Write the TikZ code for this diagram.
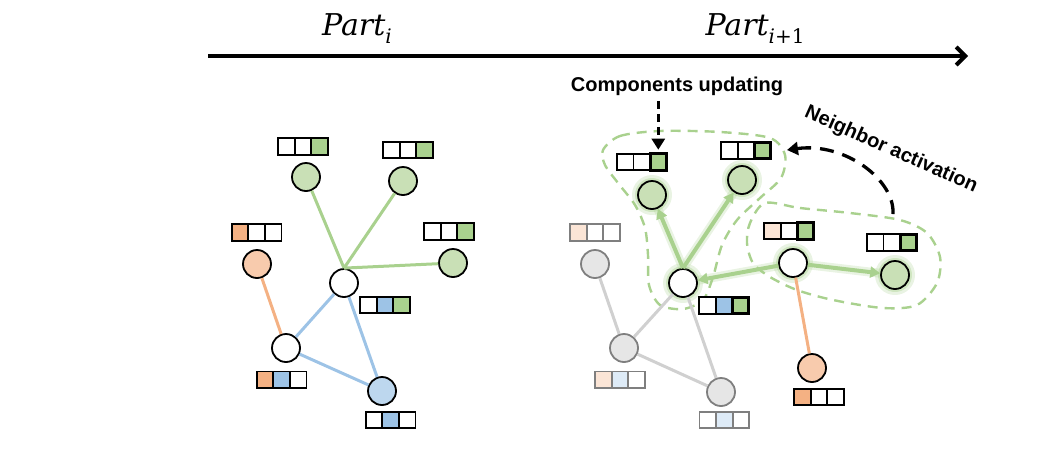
\documentclass[tikz,border=0pt]{standalone}
\usepackage{amsmath}
\usepackage{fontspec}
\setsansfont{Liberation Sans}
\newfontfamily\partfont{DejaVu Serif}
\usepackage{tikz}
\usetikzlibrary{positioning,arrows.meta,backgrounds}
\definecolor{gfill}{HTML}{C9E0B6}
\definecolor{gcellc}{HTML}{A9D18E}
\definecolor{gedge}{HTML}{A9D18E}
\definecolor{bfill}{HTML}{BDD7EE}
\definecolor{bcell}{HTML}{9DC3E6}
\definecolor{ofill}{HTML}{F8CBAD}
\definecolor{ocell}{HTML}{F4B183}
\definecolor{greyf}{HTML}{E6E6E6}
\definecolor{greyb}{HTML}{7F7F7F}
\definecolor{greye}{HTML}{D0D0D0}
\definecolor{ofade}{HTML}{FBE5D6}
\definecolor{bfade}{HTML}{DEEBF7}
\tikzset{node distance=0pt}
% three cells in a row: #2a #2b #2c
\newcommand{\featrow}[6][cell]{%
  \node[#1,fill=#5] (#2b) at (#3) {};
  \node[#1,fill=#4,left=of #2b] (#2a) {};
  \node[#1,fill=#6,right=of #2b] (#2c) {};}
\newcommand{\hotcell}[1]{\draw[line width=3pt] (#1.south west) rectangle (#1.north east);}
\newcommand{\partlab}[1]{{\partfont\itshape\fontsize{30}{30}\selectfont Part\raisebox{-8pt}{\fontsize{20}{20}\selectfont #1}}}

\begin{document}
\begin{tikzpicture}[x=1pt,y=-1pt,
  vtx/.style={circle,draw,line width=1.8pt,minimum size=28pt,inner sep=0pt,fill=white},
  gvtx/.style={vtx,draw=greyb,fill=greyf},
  cell/.style={draw,line width=1.8pt,minimum size=16.6pt,inner sep=0pt,outer sep=0pt},
  gcell/.style={cell,draw=greyb},
  lnk/.style={line width=3pt},
  garr/.style={line width=4pt,gedge,-{Triangle[length=10pt,width=11pt]},
    preaction={draw,line width=9pt,gedge,opacity=.25,-}},
  darr/.style={line width=3.3pt,-{Triangle[length=11pt,width=13pt]}},
  lab/.style={font=\sffamily\bfseries\fontsize{20}{20}\selectfont},
  blob/.style={gedge,line width=2.4pt,dash pattern=on 10pt off 7pt}
]
\useasboundingbox (0,0) rectangle (1038,448);

% time line
\coordinate (t0) at (208,56);
\coordinate (t1) at (968,56);
\draw[line width=4pt,-{Straight Barb[length=9pt,width=18pt]}] (t0) -- (t1);
\node (pi) at (357,29) {\partlab{i}};
\node (pj) at (755,29) {\partlab{i\upshape+1}};

% left graph
\node[vtx,fill=gfill] (ltl) at (306,177) {};
\node[vtx,fill=gfill] (ltr) at (403,181) {};
\node[vtx,fill=gfill] (lr) at (453,263) {};
\node[vtx,fill=ofill] (lo) at (257,264) {};
\node[vtx] (lc) at (344,283) {};
\node[vtx] (ll) at (286,348) {};
\node[vtx,fill=bfill] (lb) at (382,391) {};
\draw[lnk,gedge] (lc.north) -- (ltl) (lc.north) -- (ltr) (lc.north) -- (lr);
\draw[lnk,bcell] (lc) -- (ll) (lc) -- (lb) (ll) -- (lb);
\draw[lnk,ocell] (lo) -- (ll);

\featrow{vltl}{303,146.5}{white}{white}{gcellc}
\featrow{vltr}{408,150}{white}{white}{gcellc}
\featrow{vlr}{449,231.5}{white}{white}{gcellc}
\featrow{vlo}{256.5,232.5}{ocell}{white}{white}
\featrow{vlc}{385,305}{white}{bcell}{gcellc}
\featrow{vll}{281.5,379.7}{ocell}{bcell}{white}
\featrow{vlb}{390.5,420}{white}{bcell}{white}

% right graph
\node[gvtx] (rgo) at (595,264) {};
\node[gvtx] (rgl) at (624,348) {};
\node[gvtx] (rgb) at (721,392) {};
\node[vtx,fill=gfill] (rtl) at (652,195) {};
\node[vtx,fill=gfill] (rtr) at (742,180) {};
\node[vtx] (rc) at (683,283) {};
\node[vtx] (rm) at (793,263) {};
\node[vtx,fill=gfill] (rr) at (895,275) {};
\node[vtx,fill=ofill] (ro) at (812,368) {};
\draw[lnk,greye] (rgo) -- (rgl) (rgl) -- (rc) (rgl) -- (rgb) (rc) -- (rgb);
\draw[lnk,ocell] (rm) -- (ro);
\draw[garr] (rc.north) -- (rtl);
\draw[garr] (rc.north) -- (rtr);
\draw[garr] (rm) -- (rc);
\draw[garr] (rm) -- (rr);

\featrow{vrtl}{641.7,162}{white}{white}{gcellc} \hotcell{vrtlc}
\featrow{vrtr}{746,150.5}{white}{white}{gcellc} \hotcell{vrtrc}
\featrow{vrc}{724,305.5}{white}{bcell}{gcellc} \hotcell{vrcc}
\featrow{vrm}{789,231}{ofade}{white}{gcellc} \hotcell{vrmc}
\featrow{vrr}{891.7,242.5}{white}{white}{gcellc} \hotcell{vrrc}
\featrow[gcell]{vrgo}{595,232.5}{ofade}{white}{white}
\featrow[gcell]{vrgl}{620,379.7}{ofade}{bfade}{white}
\featrow[gcell]{vrgb}{724.3,420}{white}{bfade}{white}
\featrow{vro}{819,397}{ocell}{white}{white}

\begin{scope}[on background layer]
  \foreach \n in {rtl,rtr,rc,rm,rr} {
    \fill[gedge,opacity=.25] (\n) circle (20pt);
    \fill[gedge,opacity=.4] (\n) circle (17pt);
  }
  \draw[blob] plot[smooth cycle] coordinates {(603,150) (620,136) (660,131) (720,132)
    (770,138) (785,155) (781,178) (760,198) (737,220) (722,245) (713,277) (703,300)
    (683,309) (660,305) (649,285) (648,255) (645,228) (635,205) (618,183) (605,165)};
  \draw[blob] plot[smooth cycle] coordinates {(765,203) (800,208) (850,213) (900,220)
    (927,233) (940,257) (937,283) (917,305) (883,308) (833,300) (797,290) (770,277)
    (753,263) (747,243) (750,223)};
\end{scope}

% labels and their arrows
\node[lab] (cu) at (677,86) {Components updating};
\node[lab,rotate=-24] (na) at (891,150) {Neighbor activation};
\draw[darr,dash pattern=on 8pt off 5pt,shorten <=2pt,shorten >=4pt] (cu.south -| vrtlc) -- (vrtlc.north);
\coordinate (nas) at (893,214);
\coordinate (nae) at (787,150);
\draw[darr,dash pattern=on 14pt off 9pt] (nas) .. controls (895,180) and (845,142) .. (nae);
\end{tikzpicture}
\end{document}
